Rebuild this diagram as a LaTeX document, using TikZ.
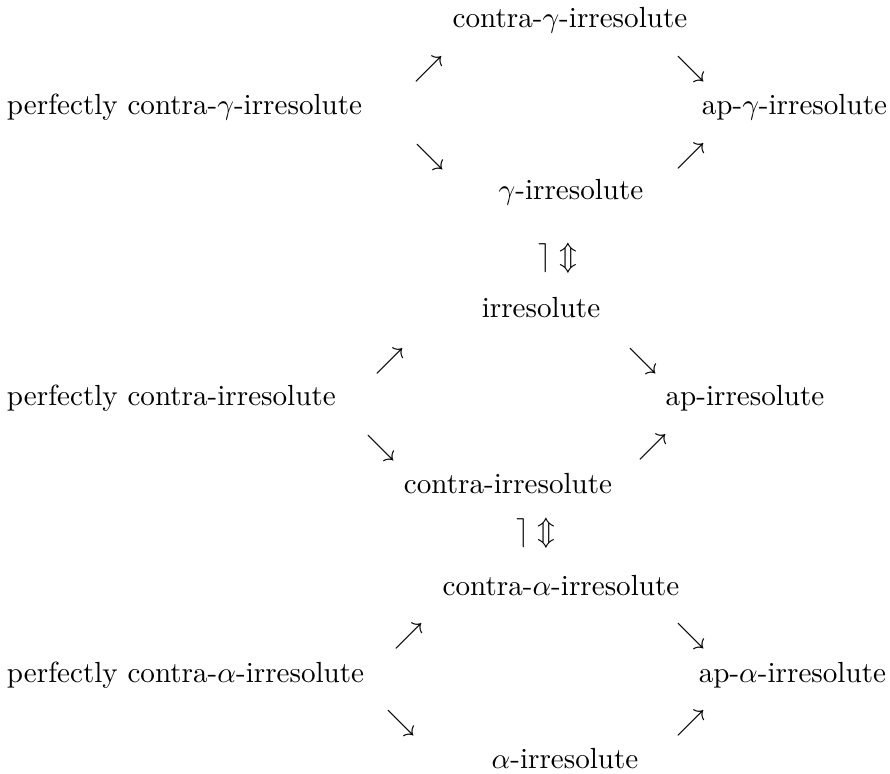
\documentclass[tikz,border=0pt]{standalone}
\begin{document}
\begin{tikzpicture}[x=0.3436pt,y=-0.3436pt,
  lbl/.style={inner sep=0pt,outer sep=0pt,font=\normalsize},
  glyph/.style={inner sep=0pt,outer sep=0pt,anchor=center}]
\useasboundingbox (0,0) rectangle (890,773);
% section 1
\node[lbl,anchor=base] (cg) at (570,27) {contra-$\gamma$-irresolute};
\node[lbl,anchor=base west] (pcg) at (7,114) {perfectly contra-$\gamma$-irresolute};
\node[lbl,anchor=base east] (apg) at (887,114) {ap-$\gamma$-irresolute};
\node[lbl,anchor=base] (g) at (571,199) {$\gamma$-irresolute};
\node[glyph] (a1) at (429,69) {$\nearrow$};
\node[glyph] (a2) at (691,69) {$\searrow$};
\node[glyph] (a3) at (430,157) {$\searrow$};
\node[glyph] (a4) at (691,156) {$\nearrow$};
\node[glyph] (e1) at (558,258) {$\rceil\Updownarrow$};
% section 2
\node[lbl,anchor=base] (ir) at (541,317) {irresolute};
\node[lbl,anchor=base west] (pci) at (7,405) {perfectly contra-irresolute};
\node[lbl,anchor=base] (api) at (745,405) {ap-irresolute};
\node[lbl,anchor=base] (ci) at (508,493) {contra-irresolute};
\node[glyph] (b1) at (390,361) {$\nearrow$};
\node[glyph] (b2) at (643,361) {$\searrow$};
\node[glyph] (b3) at (381,448) {$\searrow$};
\node[glyph] (b4) at (653,447) {$\nearrow$};
\node[glyph] (e2) at (536,533) {$\rceil\Updownarrow$};
% section 3
\node[lbl,anchor=base] (ca) at (561,595) {contra-$\alpha$-irresolute};
\node[lbl,anchor=base west] (pca) at (7,682) {perfectly contra-$\alpha$-irresolute};
\node[lbl,anchor=base east] (apa) at (886,682) {ap-$\alpha$-irresolute};
\node[lbl,anchor=base] (al) at (565,768) {$\alpha$-irresolute};
\node[glyph] (c1) at (409,636) {$\nearrow$};
\node[glyph] (c2) at (691,636) {$\searrow$};
\node[glyph] (c3) at (401,723) {$\searrow$};
\node[glyph] (c4) at (691,723) {$\nearrow$};
\end{tikzpicture}
\end{document}
